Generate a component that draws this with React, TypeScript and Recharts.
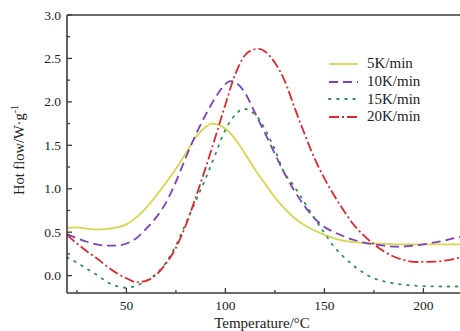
import React from 'react';
import { LineChart, Line, XAxis, YAxis, ReferenceLine } from 'recharts';

const temps5 = [20, 25, 30, 35, 40, 45, 50, 55, 60, 65, 70, 75, 80, 85, 90, 93, 96, 100, 105, 110, 115, 120, 125, 130, 135, 140, 145, 150, 155, 160, 165, 170, 175, 180, 190, 200, 210, 220];
const flow5 = [0.55, 0.555, 0.54, 0.53, 0.535, 0.555, 0.59, 0.67, 0.78, 0.92, 1.07, 1.23, 1.41, 1.59, 1.71, 1.75, 1.74, 1.69, 1.57, 1.4, 1.22, 1.06, 0.9, 0.77, 0.66, 0.58, 0.52, 0.47, 0.43, 0.4, 0.385, 0.375, 0.37, 0.365, 0.36, 0.36, 0.36, 0.36];

const temps10 = [20, 25, 30, 35, 40, 45, 50, 55, 60, 65, 70, 75, 80, 85, 90, 95, 99, 102.5, 106, 110, 115, 120, 125, 130, 135, 140, 145, 150, 155, 160, 165, 170, 175, 180, 187, 195, 200, 205, 210, 215, 220];
const flow10 = [0.48, 0.43, 0.39, 0.36, 0.345, 0.345, 0.37, 0.43, 0.54, 0.67, 0.84, 1.08, 1.36, 1.62, 1.85, 2.05, 2.18, 2.24, 2.21, 2.1, 1.87, 1.64, 1.4, 1.17, 0.97, 0.8, 0.66, 0.56, 0.5, 0.45, 0.41, 0.38, 0.36, 0.345, 0.333, 0.345, 0.36, 0.38, 0.4, 0.43, 0.45];

const temps15 = [20, 25, 30, 35, 40, 45, 50, 55, 60, 65, 70, 75, 80, 85, 90, 95, 100, 105, 109, 113, 117, 121, 125, 129, 135, 140, 145, 150, 155, 160, 165, 170, 175, 180, 185, 190, 195, 200, 210, 220];
const flow15 = [0.21, 0.15, 0.08, 0.01, -0.07, -0.12, -0.14, -0.115, -0.06, 0.02, 0.15, 0.35, 0.6, 0.86, 1.12, 1.4, 1.68, 1.85, 1.92, 1.89, 1.8, 1.64, 1.45, 1.22, 1.02, 0.84, 0.66, 0.49, 0.33, 0.21, 0.11, 0.03, -0.03, -0.065, -0.09, -0.105, -0.115, -0.12, -0.125, -0.125];

const temps20 = [20, 25, 30, 35, 40, 45, 50, 55, 60, 65, 70, 75, 80, 85, 90, 95, 100, 105, 110, 114, 117, 120, 125, 130, 135, 140, 145, 150, 155, 160, 165, 170, 175, 180, 185, 190, 197, 205, 210, 215, 220];
const flow20 = [0.47, 0.37, 0.28, 0.2, 0.11, 0.03, -0.03, -0.075, -0.06, 0.01, 0.14, 0.32, 0.58, 0.9, 1.24, 1.6, 1.97, 2.32, 2.54, 2.6, 2.61, 2.58, 2.45, 2.24, 1.93, 1.63, 1.35, 1.12, 0.92, 0.74, 0.58, 0.46, 0.36, 0.28, 0.22, 0.18, 0.157, 0.16, 0.17, 0.19, 0.22];

const seriesNames = ['5K/min', '10K/min', '15K/min', '20K/min'];
const xTicks = [25, 50, 75, 100, 125, 150, 175, 200];
const yTicks = [0, 0.25, 0.5, 0.75, 1, 1.25, 1.5, 1.75, 2, 2.25, 2.5, 2.75, 3];

const toRows = (ts: number[], vs: number[]) => ts.map((t, i) => ({ t, v: vs[i] }));

const FONT = '"Liberation Serif", "Times New Roman", serif';
const AXIS = '#3a3a3a';

const styles = [
  { color: '#d6d64a', dash: undefined as string | undefined, cap: 'butt' },
  { color: '#7b3fc0', dash: '9 5', cap: 'butt' },
  { color: '#2f8f5a', dash: '1.6 6.5', cap: 'round' },
  { color: '#e4252b', dash: '10 3 2 3', cap: 'butt' },
];

const series = [
  { name: seriesNames[0], data: toRows(temps5, flow5), ...styles[0] },
  { name: seriesNames[1], data: toRows(temps10, flow10), ...styles[1] },
  { name: seriesNames[2], data: toRows(temps15, flow15), ...styles[2] },
  { name: seriesNames[3], data: toRows(temps20, flow20), ...styles[3] },
];

const XTick = (props: any) => {
  const { x, y, payload } = props;
  const major = payload.value % 50 === 0;
  return (
    <g>
      <line x1={x} x2={x} y1={y} y2={y - (major ? 5 : 3)} stroke={AXIS} strokeWidth={1.3} />
      {major && (
        <text x={x} y={y + 17} textAnchor="middle" fontSize={13.5} fontFamily={FONT} fill="#222">
          {payload.value}
        </text>
      )}
    </g>
  );
};

const YTick = (props: any) => {
  const { x, y, payload } = props;
  const v = payload.value;
  const major = Math.abs(v * 2 - Math.round(v * 2)) < 1e-6;
  return (
    <g>
      <line x1={x} x2={x + (major ? 5 : 3)} y1={y} y2={y} stroke={AXIS} strokeWidth={1.3} />
      {major && (
        <text x={x - 6} y={y + 4.5} textAnchor="end" fontSize={13.5} fontFamily={FONT} fill="#222">
          {v.toFixed(1)}
        </text>
      )}
    </g>
  );
};

const YLabel = () => (
  <text
    x={24}
    y={150}
    transform="rotate(-90 24 150)"
    textAnchor="middle"
    fontSize={14.5}
    fontFamily={FONT}
    fill="#222"
  >
    Hot flow/W·g
    <tspan dy={-6} fontSize={10}>-1</tspan>
  </text>
);

const XLabel = () => (
  <text x={262} y={328} textAnchor="middle" fontSize={15} fontFamily={FONT} fill="#222">
    Temperature/°C
  </text>
);

const LegendBox = () => (
  <div
    style={{
      position: 'absolute',
      left: 328,
      top: 55,
      fontFamily: FONT,
      fontSize: 15,
      color: '#222',
      lineHeight: '17.8px',
    }}
  >
    {series.map((s) => (
      <div key={s.name} style={{ display: 'flex', alignItems: 'center', whiteSpace: 'nowrap' }}>
        <svg width={36} height={12} style={{ display: 'block' }}>
          <line
            x1={1}
            x2={30}
            y1={6}
            y2={6}
            stroke={s.color}
            strokeWidth={1.8}
            strokeDasharray={s.dash}
            strokeLinecap={s.cap as any}
          />
        </svg>
        <span style={{ marginLeft: 3 }}>{s.name}</span>
      </div>
    ))}
  </div>
);

export default function App() {
  return (
    <div style={{ position: 'absolute', left: 0, top: 0, width: 460, height: 331, overflow: 'hidden', background: '#fff' }}>
      <LineChart width={470} height={331} margin={{ top: 15, right: 7, left: 7, bottom: 8 }}>
        <XAxis
          xAxisId="main"
          dataKey="t"
          type="number"
          domain={[20, 220]}
          ticks={xTicks}
          interval={0}
          tickSize={0}
          tickMargin={0}
          tickLine={false}
          tick={<XTick />}
          axisLine={{ stroke: AXIS, strokeWidth: 1.6 }}
          height={30}
          allowDataOverflow
          label={<XLabel />}
        />
        <YAxis
          yAxisId="main"
          type="number"
          domain={[-0.2, 3]}
          ticks={yTicks}
          interval={0}
          tickSize={0}
          tickMargin={0}
          tickLine={false}
          tick={<YTick />}
          axisLine={{ stroke: AXIS, strokeWidth: 1.6 }}
          width={60}
          allowDataOverflow
          label={<YLabel />}
        />
        <ReferenceLine xAxisId="main" yAxisId="main" y={3} stroke={AXIS} strokeWidth={1.6} ifOverflow="visible" />
        {series.map((s) => (
          <Line
            key={s.name}
            xAxisId="main"
            yAxisId="main"
            name={s.name}
            data={s.data}
            dataKey="v"
            type="monotone"
            stroke={s.color}
            strokeWidth={1.8}
            strokeDasharray={s.dash}
            strokeLinecap={s.cap as any}
            dot={false}
            activeDot={false}
            isAnimationActive={false}
          />
        ))}
      </LineChart>
      <LegendBox />
    </div>
  );
}
